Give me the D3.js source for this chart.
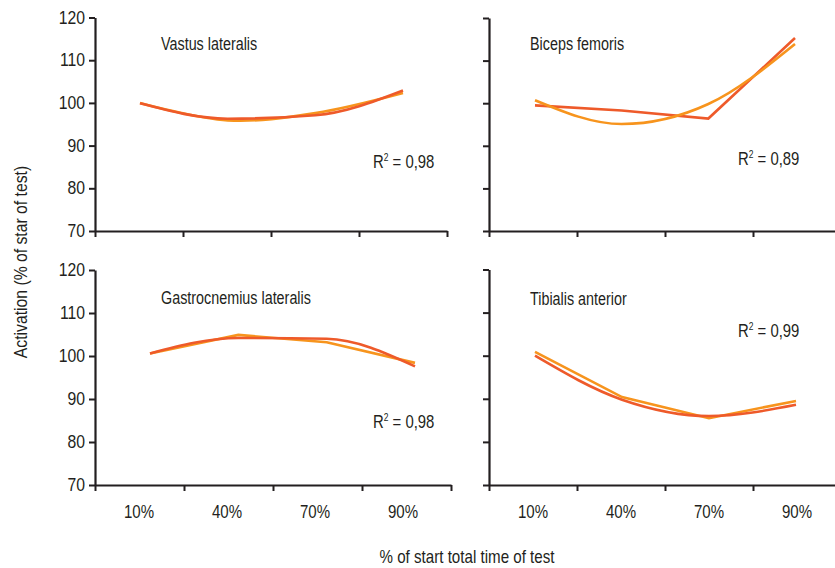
<!DOCTYPE html>
<html>
<head>
<meta charset="utf-8">
<script src="https://cdn.jsdelivr.net/npm/d3@7"></script>
<style>
  html, body { margin: 0; padding: 0; background: #fff; }
  svg { display: block; font-family: "Liberation Sans", Arial, sans-serif; }
  text { fill: #231f20; }
</style>
</head>
<body>
<svg id="chart" width="835" height="568"></svg>
<script>
// ---- data ----
const categories = ["10%", "40%", "70%", "90%"];
const yTicks = [70, 80, 90, 100, 110, 120];
const muscles = ["Vastus lateralis", "Biceps femoris", "Gastrocnemius lateralis", "Tibialis anterior"];
const r2Values = ["0,98", "0,89", "0,98", "0,99"];

const vastusData   = [100.0, 95.9, 97.6, 102.3];
const vastusTrend  = [99.9, 96.3, 97.1, 102.9];
const bicepsData   = [99.5, 98.3, 96.4, 115.3];
const bicepsTrend  = [100.7, 95.1, 99.8, 113.9];
const gastroData   = [100.6, 104.9, 103.2, 98.4];
const gastroTrend  = [100.6, 104.2, 104.0, 97.6];
const tibialisData = [100.9, 90.4, 85.5, 89.5];
const tibialisTrend= [100.0, 89.8, 86.0, 88.6];

const yAxisTitle = "Activation (% of star of test)";
const xAxisTitle = "% of start total time of test";

// ---- styles / layout ----
const RED = "#ee5a2a", ORANGE = "#f7941d", AXIS = "#231f20";
const FS = 17.5;
const panels = [
  { name: muscles[0], r2: r2Values[0], data: vastusData, trend: vastusTrend, dataColor: ORANGE, trendColor: RED, dataCurve: d3.curveCatmullRom,
    x0: 95, x1: 447, yTop: 17.5, yBot: 231, pts: [140, 403], yLabels: true, xLabels: false, title: [161, 50], r2pos: [373, 168] },
  { name: muscles[1], r2: r2Values[1], data: bicepsData, trend: bicepsTrend, dataColor: RED, trendColor: ORANGE, dataCurve: d3.curveLinear,
    x0: 489, x1: 841, yTop: 18, yBot: 231, pts: [535, 795], yLabels: false, xLabels: false, title: [530, 50], r2pos: [738, 165] },
  { name: muscles[2], r2: r2Values[2], data: gastroData, trend: gastroTrend, dataColor: ORANGE, trendColor: RED, dataCurve: d3.curveLinear,
    x0: 95, x1: 451, yTop: 270, yBot: 485, pts: [150, 415], yLabels: true, xLabels: true, title: [161, 304], r2pos: [373, 428] },
  { name: muscles[3], r2: r2Values[3], data: tibialisData, trend: tibialisTrend, dataColor: ORANGE, trendColor: RED, dataCurve: d3.curveLinear,
    x0: 489, x1: 841, yTop: 269.5, yBot: 485, pts: [535, 796], yLabels: false, xLabels: true, title: [530, 305], r2pos: [738, 337] }
];

const svg = d3.select("#chart");

function label(parent, x, y, str, sx, anchor, rot) {
  return parent.append("text")
    .attr("transform", `translate(${x},${y})${rot ? ` rotate(${rot})` : ""} scale(${sx},1)`)
    .attr("text-anchor", anchor || "start")
    .attr("font-size", FS)
    .text(str);
}

panels.forEach(p => {
  const g = svg.append("g");
  const y = d3.scaleLinear().domain([70, 120]).range([p.yBot, p.yTop]);
  const xEdges = d3.scaleLinear().domain([0, categories.length]).range([p.x0, p.x1]);
  const xBand = d3.scaleBand().domain(categories).range([p.x0, p.x0 + 352]);
  const xPt = d3.scalePoint().domain(categories).range(p.pts);

  // y axis
  const ya = g.append("g").attr("transform", `translate(${p.x0},0)`)
    .call(d3.axisLeft(y).tickValues(yTicks).tickSize(6).tickSizeOuter(0)
      .tickFormat(p.yLabels ? d3.format("d") : () => ""));
  ya.select(".domain").attr("stroke", AXIS).attr("stroke-width", 2.2);
  ya.selectAll(".tick line").attr("stroke", AXIS).attr("stroke-width", 2);
  ya.selectAll(".tick text")
    .attr("x", -10 / 0.9).attr("transform", "scale(0.9,1)")
    .attr("font-size", FS).attr("fill", AXIS)
    .style("font-family", "inherit");

  // x axis
  const xa = g.append("g").attr("transform", `translate(0,${p.yBot})`)
    .call(d3.axisBottom(xEdges).tickValues(d3.range(categories.length + 1)).tickSize(6).tickSizeOuter(0).tickFormat(() => ""));
  xa.select(".domain").attr("stroke", AXIS).attr("stroke-width", 2.2);
  xa.selectAll(".tick line").attr("stroke", AXIS).attr("stroke-width", 2);

  if (p.xLabels) {
    categories.forEach(c => label(g, xBand(c) + xBand.bandwidth() / 2, p.yBot + 33, c, 0.86, "middle"));
  }

  // lines
  const lineData = d3.line().x((d, i) => xPt(categories[i])).y(d => y(d)).curve(p.dataCurve);
  const lineTrend = d3.line().x((d, i) => xPt(categories[i])).y(d => y(d)).curve(d3.curveMonotoneX);
  g.append("path").attr("d", lineData(p.data)).attr("fill", "none")
    .attr("stroke", p.dataColor).attr("stroke-width", 2.6).attr("stroke-linejoin", "miter");
  g.append("path").attr("d", lineTrend(p.trend)).attr("fill", "none")
    .attr("stroke", p.trendColor).attr("stroke-width", 2.6);

  // title
  label(g, p.title[0], p.title[1], p.name, 0.82);

  // R^2
  const t = label(g, p.r2pos[0], p.r2pos[1], "", 0.85);
  t.append("tspan").text("R");
  t.append("tspan").attr("font-size", 10).attr("dy", -7).text("2");
  t.append("tspan").attr("dy", 7).text(" = " + p.r2);
});

// axis titles
label(svg, 27, 262, yAxisTitle, 0.9, "middle", -90);
label(svg, 467, 563, xAxisTitle, 0.865, "middle");
</script>
</body>
</html>
